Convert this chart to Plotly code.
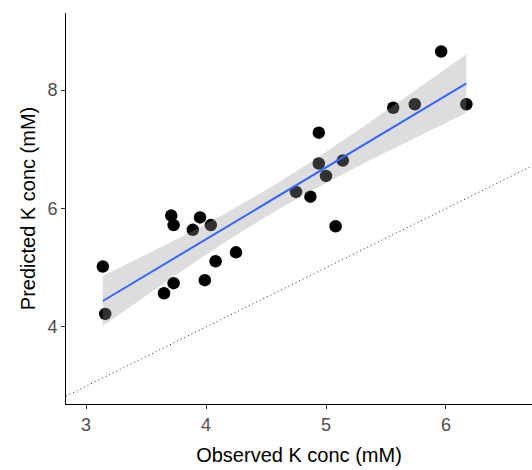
import numpy as np
import plotly.graph_objects as go

observed = [3.14, 3.16, 3.71, 3.73, 3.89, 3.95, 4.04, 4.25, 4.08, 3.99, 3.73, 3.65,
            5.96, 6.17, 5.56, 5.74, 4.94, 4.94, 5.14, 5.00, 4.75, 4.87, 5.08]
predicted = [5.02, 4.22, 5.88, 5.72, 5.64, 5.85, 5.72, 5.26, 5.11, 4.79, 4.74, 4.57,
             8.65, 7.76, 7.70, 7.76, 7.28, 6.76, 6.81, 6.55, 6.28, 6.20, 5.70]

x_range = [2.833, 6.717]
y_range = [2.70, 9.30]
x_ticks = [3, 4, 5, 6]
y_ticks = [4, 6, 8]

x = np.array(observed)
y = np.array(predicted)
n = len(x)
b1, b0 = np.polyfit(x, y, 1)
xs = np.linspace(x.min(), x.max(), 80)
ys = b0 + b1 * xs
resid = y - (b0 + b1 * x)
s = np.sqrt(np.sum(resid ** 2) / (n - 2))
sxx = np.sum((x - x.mean()) ** 2)
se = s * np.sqrt(1 / n + (xs - x.mean()) ** 2 / sxx)
tval = 2.080  # t(0.975, df=21)
upper = ys + tval * se
lower = ys - tval * se

fig = go.Figure()
fig.add_trace(go.Scatter(x=x_range, y=x_range, mode="lines",
                         line=dict(color="#222222", width=1, dash="1px,3px"),
                         hoverinfo="skip", showlegend=False))
fig.add_trace(go.Scatter(x=observed, y=predicted, mode="markers",
                         marker=dict(color="black", size=12.5, line=dict(width=0)),
                         showlegend=False))
fig.add_trace(go.Scatter(x=np.concatenate([xs, xs[::-1]]),
                         y=np.concatenate([upper, lower[::-1]]),
                         fill="toself", fillcolor="rgba(153,153,153,0.33)",
                         line=dict(width=0), mode="lines", hoverinfo="skip",
                         showlegend=False))
fig.add_trace(go.Scatter(x=xs, y=ys, mode="lines",
                         line=dict(color="#3366FF", width=2),
                         showlegend=False))

axis_common = dict(showgrid=False, zeroline=False, showline=True, linecolor="black",
                   linewidth=1, ticks="outside", ticklen=4, tickcolor="#333333",
                   tickfont=dict(family="Liberation Sans, Arial", size=18, color="#4d4d4d"))

fig.update_layout(
    width=532, height=470,
    margin=dict(l=66, r=0, t=13, b=66),
    plot_bgcolor="white", paper_bgcolor="white",
    xaxis=dict(range=x_range, tickvals=x_ticks, **axis_common,
               title=dict(text="Observed K conc (mM)", standoff=14,
                          font=dict(family="Liberation Sans, Arial", size=20, color="black"))),
    yaxis=dict(range=y_range, tickvals=y_ticks, **axis_common,
               title=dict(text="Predicted K conc (mM)", standoff=6,
                          font=dict(family="Liberation Sans, Arial", size=20, color="black"))),
)

fig.write_html("out.html")
